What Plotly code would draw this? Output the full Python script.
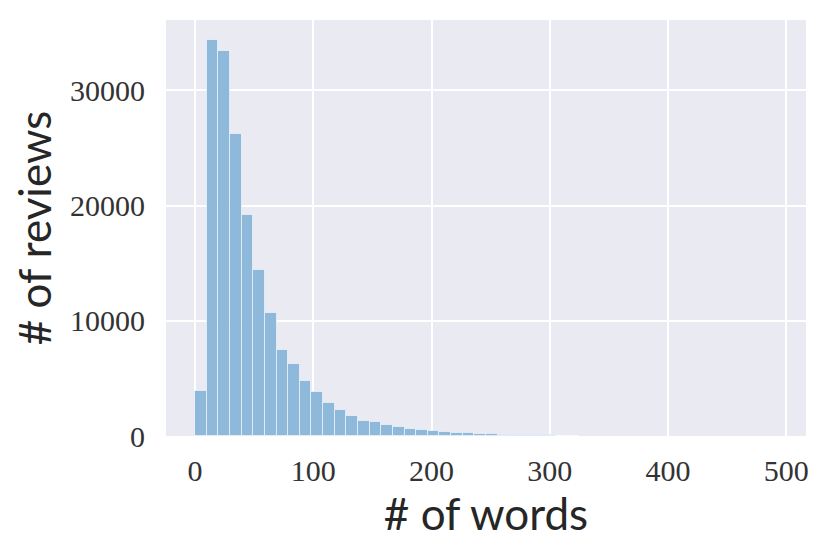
import numpy as np
import plotly.graph_objects as go

# Histogram of review lengths (# of words), 50 bins from 0 to ~492
bin_min = 0.0
bin_max = 492.0
n_bins = 50
counts = [3900, 34350, 33450, 26250, 19200, 14380, 10650, 7500, 6290, 4760,
          3800, 2900, 2300, 1720, 1300, 1230, 960, 750, 610, 520,
          440, 350, 290, 230, 190, 150, 120, 100, 80, 60,
          45, 35, 25, 0, 0, 0, 0, 0, 0, 0,
          0, 0, 0, 0, 0, 0, 0, 0, 0, 0]
x_ticks = [0, 100, 200, 300, 400, 500]
y_ticks = [0, 10000, 20000, 30000]

edges = np.linspace(bin_min, bin_max, n_bins + 1)
centers = (edges[:-1] + edges[1:]) / 2
width = edges[1] - edges[0]
counts_arr = np.array(counts)
mask = counts_arr > 0

fig = go.Figure()
fig.add_trace(go.Bar(
    x=centers[mask], y=counts_arr[mask], width=width,
    marker=dict(color="rgb(142,185,218)",
                line=dict(color="rgba(255,255,255,0.55)", width=1)),
    showlegend=False,
))

# the page body adds an 8px offset; compensate in margins
off = 8
span = bin_max - bin_min
fig.update_layout(
    width=830, height=554,
    margin=dict(l=166 - off, r=24 + off, t=20 - off, b=118 + off),
    paper_bgcolor="white",
    plot_bgcolor="#EAEAF2",
    bargap=0,
    xaxis=dict(
        automargin=False,
        range=[bin_min - 0.05 * span, bin_max + 0.05 * span],
        tickvals=x_ticks, ticktext=[str(v) for v in x_ticks],
        showgrid=True, gridcolor="white", gridwidth=1.6,
        zeroline=False, showline=False,
        ticks="outside", ticklen=8, tickcolor="rgba(0,0,0,0)",
        tickfont=dict(family="Liberation Serif", size=30, color="#333333"),
        title=dict(text="# of words", standoff=6,
                   font=dict(family="Lato", size=44, color="#262626")),
    ),
    yaxis=dict(
        automargin=False,
        range=[0, 36100],
        tickvals=y_ticks, ticktext=[str(v) for v in y_ticks],
        showgrid=True, gridcolor="white", gridwidth=1.6,
        zeroline=False, showline=False,
        ticks="outside", ticklen=14, tickcolor="rgba(0,0,0,0)",
        tickfont=dict(family="Liberation Serif", size=30, color="#333333"),
        title=dict(text="# of reviews", standoff=4,
                   font=dict(family="Lato", size=44, color="#262626")),
    ),
)

fig.write_html("out.html")
